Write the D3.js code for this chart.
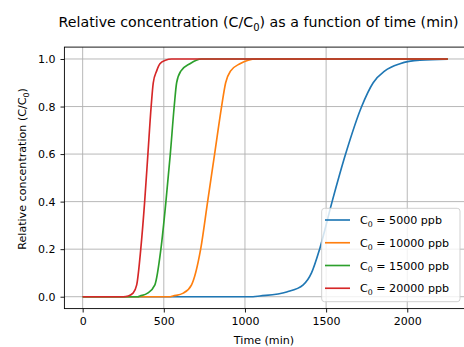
<!DOCTYPE html>
<html>
<head>
<meta charset="utf-8">
<script src="https://cdn.jsdelivr.net/npm/d3@7"></script>
<style>
  body { margin: 0; background: #fff; }
  svg { display: block; font-family: "DejaVu Sans", sans-serif; }
</style>
</head>
<body>
<svg id="chart" width="464" height="347"></svg>
<script>
// Values (time in min, C/C0)
const SERIES_LABELS = ["5000", "10000", "15000", "20000"];
const SERIES_COLORS = ["#1f77b4", "#ff7f0e", "#2ca02c", "#d62728"];

const BLUE_T = [0, 1050, 1092, 1257, 1359, 1410, 1460, 1537, 1620, 1719, 1790, 1862, 1955, 2078, 2250];
const BLUE_V = [0, 0, 0.003, 0.02, 0.05, 0.1, 0.2, 0.4, 0.6, 0.8, 0.9, 0.95, 0.98, 0.995, 0.999];

const ORANGE_T = [0, 540, 557, 620, 671, 727, 770, 813, 856, 881, 912, 969, 1020, 1072, 2250];
const ORANGE_V = [0, 0, 0.003, 0.015, 0.05, 0.2, 0.4, 0.6, 0.8, 0.9, 0.95, 0.98, 0.995, 1, 1];

const GREEN_T = [0, 340, 353, 400, 445, 482, 513, 540, 564, 579, 606, 661, 700, 733, 2250];
const GREEN_V = [0, 0, 0.003, 0.015, 0.05, 0.2, 0.4, 0.6, 0.8, 0.9, 0.95, 0.98, 0.995, 1, 1];

const RED_T = [0, 250, 281, 310, 333, 358, 382, 402, 422, 435, 456, 476, 510, 548, 2250];
const RED_V = [0, 0, 0.003, 0.015, 0.05, 0.2, 0.4, 0.6, 0.8, 0.9, 0.95, 0.98, 0.995, 1, 1];

const X_TICKS = [0, 500, 1000, 1500, 2000];
const Y_TICKS = [0, 0.2, 0.4, 0.6, 0.8, 1.0];

const series = [
  { t: BLUE_T, v: BLUE_V },
  { t: ORANGE_T, v: ORANGE_V },
  { t: GREEN_T, v: GREEN_V },
  { t: RED_T, v: RED_V }
].map((s, i) => ({
  label: SERIES_LABELS[i],
  color: SERIES_COLORS[i],
  points: s.t.map((t, j) => [t, s.v[j]])
}));

const svg = d3.select("#chart");

// axes box (right edge falls just outside the picture, like the reference)
const axLeft = 64.4, axRight = 466.1, axTop = 47.1, axBottom = 308.6;

const x = d3.scaleLinear().domain([-112.5, 2362.5]).range([axLeft, axRight]);
const y = d3.scaleLinear().domain([-0.05, 1.05]).range([axBottom, axTop]);

// grid
const grid = svg.append("g").attr("class", "grid");
grid.selectAll(".gx").data(X_TICKS).enter().append("line")
  .attr("x1", d => x(d)).attr("x2", d => x(d))
  .attr("y1", axTop).attr("y2", axBottom)
  .attr("stroke", "#b0b0b0").attr("stroke-width", 0.9);
grid.selectAll(".gy").data(Y_TICKS).enter().append("line")
  .attr("x1", axLeft).attr("x2", axRight)
  .attr("y1", d => y(d)).attr("y2", d => y(d))
  .attr("stroke", "#b0b0b0").attr("stroke-width", 0.9);

// lines
const line = d3.line()
  .x(d => x(d[0]))
  .y(d => y(d[1]))
  .curve(d3.curveMonotoneX);

svg.append("g").selectAll("path").data(series).enter().append("path")
  .attr("d", d => line(d.points))
  .attr("fill", "none")
  .attr("stroke", d => d.color)
  .attr("stroke-width", 1.65)
  .attr("stroke-linejoin", "round");

// spines
svg.append("rect")
  .attr("x", axLeft).attr("y", axTop)
  .attr("width", axRight - axLeft).attr("height", axBottom - axTop)
  .attr("fill", "none").attr("stroke", "#000").attr("stroke-width", 0.9);

// axes
const xAxis = svg.append("g")
  .attr("transform", `translate(0,${axBottom})`)
  .call(d3.axisBottom(x).tickValues(X_TICKS).tickFormat(d3.format("d"))
    .tickSize(3.9).tickPadding(4.5).tickSizeOuter(0));
const yAxis = svg.append("g")
  .attr("transform", `translate(${axLeft},0)`)
  .call(d3.axisLeft(y).tickValues(Y_TICKS).tickFormat(d3.format(".1f"))
    .tickSize(3.9).tickPadding(5).tickSizeOuter(0));

[xAxis, yAxis].forEach(g => {
  g.select(".domain").remove();
  g.attr("font-family", "DejaVu Sans, sans-serif").attr("font-size", 11);
  g.selectAll(".tick line").attr("stroke", "#000").attr("stroke-width", 0.9);
  g.selectAll(".tick text").attr("fill", "#000");
});

// title
const title = svg.append("text")
  .attr("x", 258.5).attr("y", 27)
  .attr("text-anchor", "middle")
  .attr("font-size", 14.2)
  .attr("fill", "#000");
title.append("tspan").text("Relative concentration (C/C");
title.append("tspan").attr("font-size", 10).attr("dy", 3.5).text("0");
title.append("tspan").attr("dy", -3.5).text(") as a function of time (min)");

// axis labels
svg.append("text")
  .attr("x", 264).attr("y", 344)
  .attr("text-anchor", "middle")
  .attr("font-size", 11.1)
  .text("Time (min)");

const ylab = svg.append("text")
  .attr("transform", "translate(26,169) rotate(-90)")
  .attr("text-anchor", "middle")
  .attr("font-size", 11.1);
ylab.append("tspan").text("Relative concentration (C/C");
ylab.append("tspan").attr("font-size", 7.8).attr("dy", 2.8).text("0");
ylab.append("tspan").attr("dy", -2.8).text(")");

// legend
const legend = svg.append("g");
legend.append("rect")
  .attr("x", 321.7).attr("y", 208.3)
  .attr("width", 138.3).attr("height", 93.4)
  .attr("rx", 2.8)
  .attr("fill", "#fff").attr("fill-opacity", 0.8)
  .attr("stroke", "#cccccc").attr("stroke-width", 0.9);

const rows = legend.selectAll(".row").data(series).enter().append("g")
  .attr("transform", (d, i) => `translate(0,${220 + i * 22.75})`);
rows.append("line")
  .attr("x1", 325).attr("x2", 350)
  .attr("stroke", d => d.color).attr("stroke-width", 1.65);
const lt = rows.append("text")
  .attr("x", 360).attr("y", 4)
  .attr("font-size", 11.1).attr("fill", "#000");
lt.append("tspan").text("C");
lt.append("tspan").attr("font-size", 7.8).attr("dy", 2.8).text("0");
lt.append("tspan").attr("dy", -2.8).text(d => " = " + d.label + " ppb");
</script>
</body>
</html>
